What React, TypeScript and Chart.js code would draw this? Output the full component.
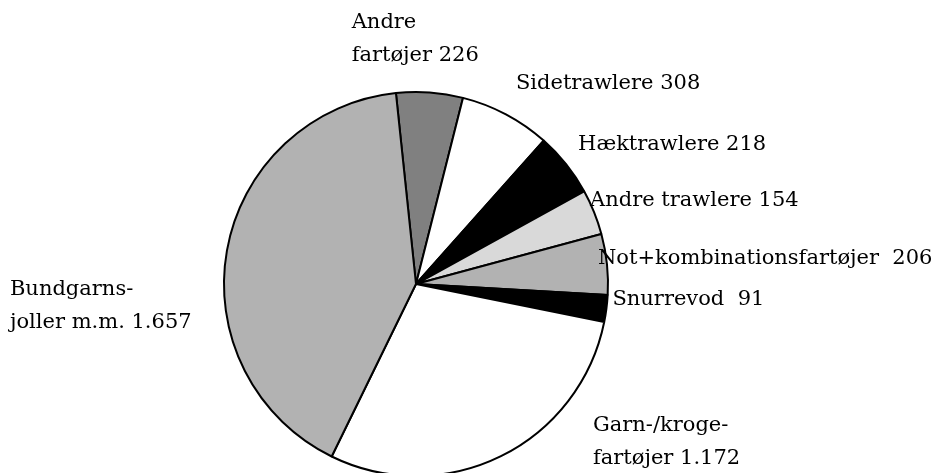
import React, { useEffect, useRef } from "react";
import { Chart, registerables } from "chart.js";

Chart.register(...registerables);

const categories: string[][] = [
  ["Andre", "fartøjer 226"],
  ["Sidetrawlere 308"],
  ["Hæktrawlere 218"],
  ["Andre trawlere 154"],
  ["Not+kombinationsfartøjer  206"],
  ["Snurrevod  91"],
  ["Garn-/kroge-", "fartøjer 1.172"],
  ["Bundgarns-", "joller m.m. 1.657"],
];
const values: number[] = [226, 308, 218, 154, 206, 91, 1172, 1657];
const colors: string[] = [
  "#808080",
  "#ffffff",
  "#000000",
  "#d9d9d9",
  "#b2b2b2",
  "#000000",
  "#ffffff",
  "#b2b2b2",
];
// label offsets (dx, dy of first line's middle) relative to each slice's outer midpoint
const labelOffsets: [number, number][] = [
  [-78, -70],
  [10, -31],
  [12, -20],
  [-4, -12],
  [-9, -6],
  [6, -9],
  [92, -31],
  [-217, 39],
];

const FONT = '21px "DejaVu Serif"';
const LINE_H = 33;

const labelPlugin = {
  id: "outerLabels",
  afterDatasetsDraw(chart: any) {
    const ctx = chart.ctx;
    const meta = chart.getDatasetMeta(0);
    ctx.save();
    ctx.font = FONT;
    ctx.fillStyle = "#000";
    ctx.textAlign = "left";
    ctx.textBaseline = "middle";
    meta.data.forEach((arc: any, i: number) => {
      const p = arc.getProps(["x", "y", "startAngle", "endAngle", "outerRadius"], true);
      const mid = (p.startAngle + p.endAngle) / 2;
      const ax = p.x + Math.cos(mid) * p.outerRadius;
      const ay = p.y + Math.sin(mid) * p.outerRadius;
      const [dx, dy] = labelOffsets[i];
      categories[i].forEach((line, j) => {
        ctx.fillText(line, ax + dx, ay + dy + j * LINE_H);
      });
    });
    ctx.restore();
  },
};

export default function App() {
  const ref = useRef<HTMLCanvasElement>(null);
  useEffect(() => {
    if (!ref.current) return;
    const chart = new Chart(ref.current, {
      type: "pie",
      data: {
        labels: categories.map((c) => c.join(" ")),
        datasets: [
          {
            data: values,
            backgroundColor: colors,
            borderColor: "#000000",
            borderWidth: 2,
          },
        ],
      },
      options: {
        animation: false,
        responsive: false,
        rotation: -6,
        layout: { padding: { left: 223, right: 335, top: 91, bottom: 3 } },
        plugins: {
          legend: { display: false },
          tooltip: { enabled: false },
        },
      },
      plugins: [labelPlugin],
    });
    return () => chart.destroy();
  }, []);
  return (
    <div
      style={{
        position: "fixed",
        left: 0,
        top: 0,
        width: 944,
        height: 473,
        overflow: "hidden",
        background: "#fff",
      }}
    >
      <canvas ref={ref} width={944} height={480} style={{ width: 944, height: 480, display: "block" }} />
    </div>
  );
}
